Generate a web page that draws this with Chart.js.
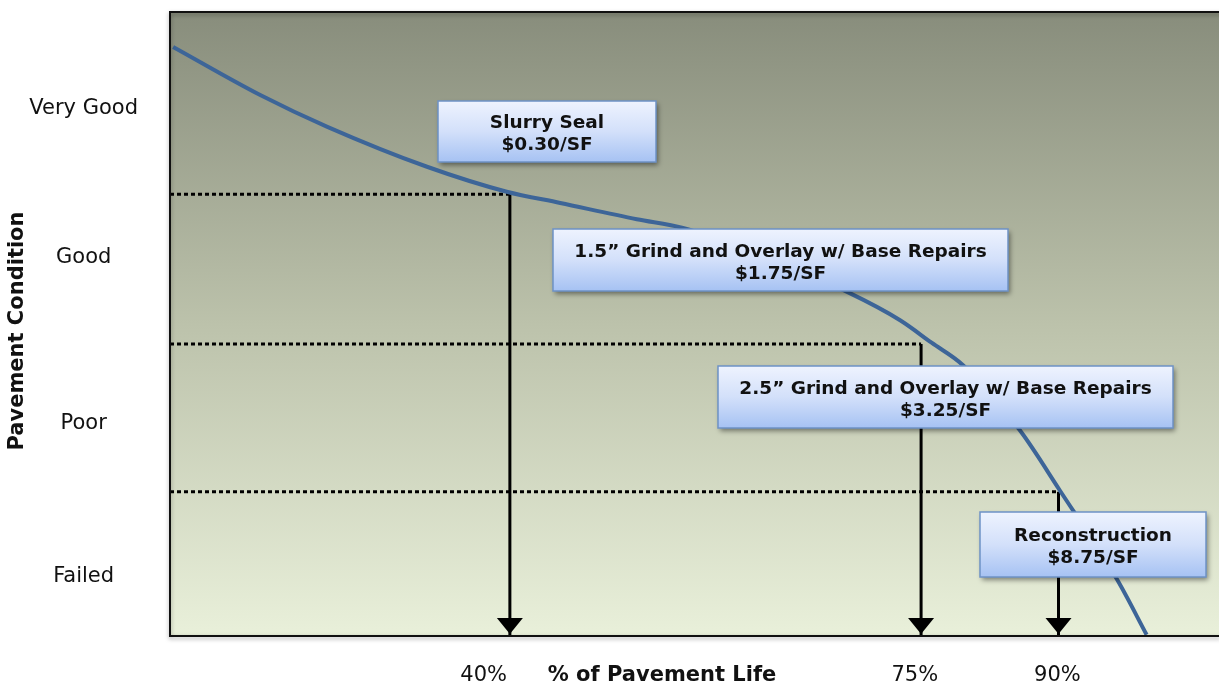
<!DOCTYPE html>
<html><head><meta charset="utf-8">
<script src="https://cdn.jsdelivr.net/npm/chart.js@4.4.1/dist/chart.umd.min.js"></script>
<style>html,body{margin:0;padding:0;background:#fff}#wrap{width:1219px;height:685px;position:relative}</style>
</head><body><div id="wrap"><canvas id="c"></canvas></div>
<script>
// ---- data ----
const conditionLabels = ['Very Good', 'Good', 'Poor', 'Failed'];
const conditionValues = [84.6, 60.6, 34.0, 9.6];
const lifeLabels = ['40%', '75%', '90%'];
const lifeTickValues = [29.9, 71.0, 84.6];
const curveX = [0.3, 8.6, 15.0, 24.5, 32.1, 37.2, 44.5, 48.9, 56.2, 64.6, 69.6, 72.6, 75.6, 81.0, 84.8, 90.3, 93.1];
const curveY = [94.4, 86.7, 81.6, 75.2, 71.2, 69.4, 66.8, 65.4, 61.1, 55.1, 50.6, 47.0, 43.4, 33.0, 23.4, 9.0, 0.2];
const thresholdX = [32.4, 71.6, 84.7];
const thresholdY = [70.8, 46.8, 23.1];
const treatmentNames = ['Slurry Seal', '1.5\u201D Grind and Overlay w/ Base Repairs', '2.5\u201D Grind and Overlay w/ Base Repairs', 'Reconstruction'];
const treatmentCosts = ['$0.30/SF', '$1.75/SF', '$3.25/SF', '$8.75/SF'];
const xTitle = '% of Pavement Life';
const yTitle = 'Pavement Condition';

// ---- layout / style ----
const FONT = '"DejaVu Sans", Verdana, sans-serif';
const boxes = [
  {x: 438, y: 101, w: 218, h: 61},
  {x: 553, y: 229, w: 455, h: 62},
  {x: 718, y: 366, w: 455, h: 62},
  {x: 980, y: 512, w: 226, h: 65}
];

const curveData = curveX.map((x, i) => ({x, y: curveY[i]}));
const thresholdSets = thresholdX.map((tx, i) => ({
  type: 'line',
  data: [{x: 0, y: thresholdY[i]}, {x: tx, y: thresholdY[i]}, {x: tx, y: 0}],
  borderColor: '#000',
  borderWidth: 3,
  pointRadius: 0,
  tension: 0,
  clip: false,
  order: 2,
  segment: { borderDash: ctx => ctx.p0DataIndex === 0 ? [4, 3] : [] }
}));

const decor = {
  id: 'decor',
  beforeDatasetsDraw(chart) {
    const {ctx, chartArea: a} = chart;
    const g = ctx.createLinearGradient(0, a.top, 0, a.bottom);
    g.addColorStop(0, '#888d7c');
    g.addColorStop(0.5, '#bcc2ab');
    g.addColorStop(1, '#e9f0da');
    ctx.save();
    ctx.fillStyle = g;
    ctx.fillRect(a.left, a.top, a.right - a.left, a.bottom - a.top);
    ctx.restore();
  },
  afterDatasetsDraw(chart) {
    const {ctx, chartArea: a, scales} = chart;
    ctx.save();
    // arrowheads
    ctx.fillStyle = '#000';
    thresholdX.forEach(tx => {
      const px = scales.x.getPixelForValue(tx);
      const py = scales.y.getPixelForValue(0);
      ctx.beginPath();
      ctx.moveTo(px, py - 2);
      ctx.lineTo(px - 13, py - 18);
      ctx.lineTo(px + 13, py - 18);
      ctx.closePath();
      ctx.fill();
    });
    // frame
    ctx.save();
    ctx.shadowColor = 'rgba(0,0,0,0.35)';
    ctx.shadowBlur = 4;
    ctx.shadowOffsetY = 2;
    ctx.strokeStyle = '#111';
    ctx.lineWidth = 2;
    ctx.beginPath();
    ctx.moveTo(a.right + 2, a.top);
    ctx.lineTo(a.left, a.top);
    ctx.lineTo(a.left, a.bottom);
    ctx.lineTo(a.right + 2, a.bottom);
    ctx.stroke();
    ctx.restore();
    // treatment boxes
    boxes.forEach((b, i) => {
      ctx.save();
      ctx.shadowColor = 'rgba(0,0,0,0.45)';
      ctx.shadowBlur = 5;
      ctx.shadowOffsetX = 2;
      ctx.shadowOffsetY = 3;
      const g = ctx.createLinearGradient(0, b.y, 0, b.y + b.h);
      g.addColorStop(0, '#eef3fe');
      g.addColorStop(0.5, '#d3e0fa');
      g.addColorStop(1, '#a6c2f3');
      ctx.fillStyle = g;
      ctx.fillRect(b.x, b.y, b.w, b.h);
      ctx.restore();
      ctx.strokeStyle = '#6e92c6';
      ctx.lineWidth = 1.5;
      ctx.strokeRect(b.x, b.y, b.w, b.h);
      ctx.fillStyle = '#111';
      ctx.font = 'bold 18.5px ' + FONT;
      ctx.textAlign = 'center';
      ctx.textBaseline = 'middle';
      const cx = b.x + b.w / 2, cy = b.y + b.h / 2;
      ctx.fillText(treatmentNames[i], cx, cy - 8);
      ctx.fillText(treatmentCosts[i], cx, cy + 14);
    });
    // axis titles
    ctx.fillStyle = '#111';
    ctx.font = 'bold 21px ' + FONT;
    ctx.textAlign = 'center';
    ctx.textBaseline = 'middle';
    ctx.fillText(xTitle, 662, 676);
    ctx.save();
    ctx.translate(18, 331);
    ctx.rotate(-Math.PI / 2);
    ctx.fillText(yTitle, 0, 0);
    ctx.restore();
    ctx.restore();
  }
};

function noPad(s) {
  s.paddingTop = 0; s.paddingBottom = 0; s.paddingLeft = 0; s.paddingRight = 0;
}

new Chart(document.getElementById('c'), {
  type: 'line',
  data: {
    datasets: [
      {
        data: curveData,
        borderColor: '#3d6598',
        borderWidth: 4,
        pointRadius: 0,
        cubicInterpolationMode: 'monotone',
        order: 1
      },
      ...thresholdSets
    ]
  },
  options: {
    responsive: true,
    maintainAspectRatio: false,
    animation: false,
    layout: {padding: {top: 12, right: 0, left: 0, bottom: 0}},
    plugins: {legend: {display: false}, tooltip: {enabled: false}},
    scales: {
      x: {
        type: 'linear', min: 0, max: 100,
        grid: {display: false}, border: {display: false},
        afterBuildTicks: s => { s.ticks = lifeTickValues.map(v => ({value: v})); },
        afterFit: s => { s.height = 49; noPad(s); },
        ticks: {
          callback: (v, i) => lifeLabels[i],
          font: {family: FONT, size: 21}, color: '#111',
          padding: 19, autoSkip: false, maxRotation: 0
        }
      },
      y: {
        type: 'linear', min: 0, max: 100,
        grid: {display: false}, border: {display: false},
        afterBuildTicks: s => { s.ticks = conditionValues.map(v => ({value: v})); },
        afterFit: s => { s.width = 170; noPad(s); },
        ticks: {
          callback: (v, i) => conditionLabels[i],
          font: {family: FONT, size: 21}, color: '#111',
          crossAlign: 'center', padding: 24, autoSkip: false
        }
      }
    }
  },
  plugins: [decor]
});
</script>
</body></html>
